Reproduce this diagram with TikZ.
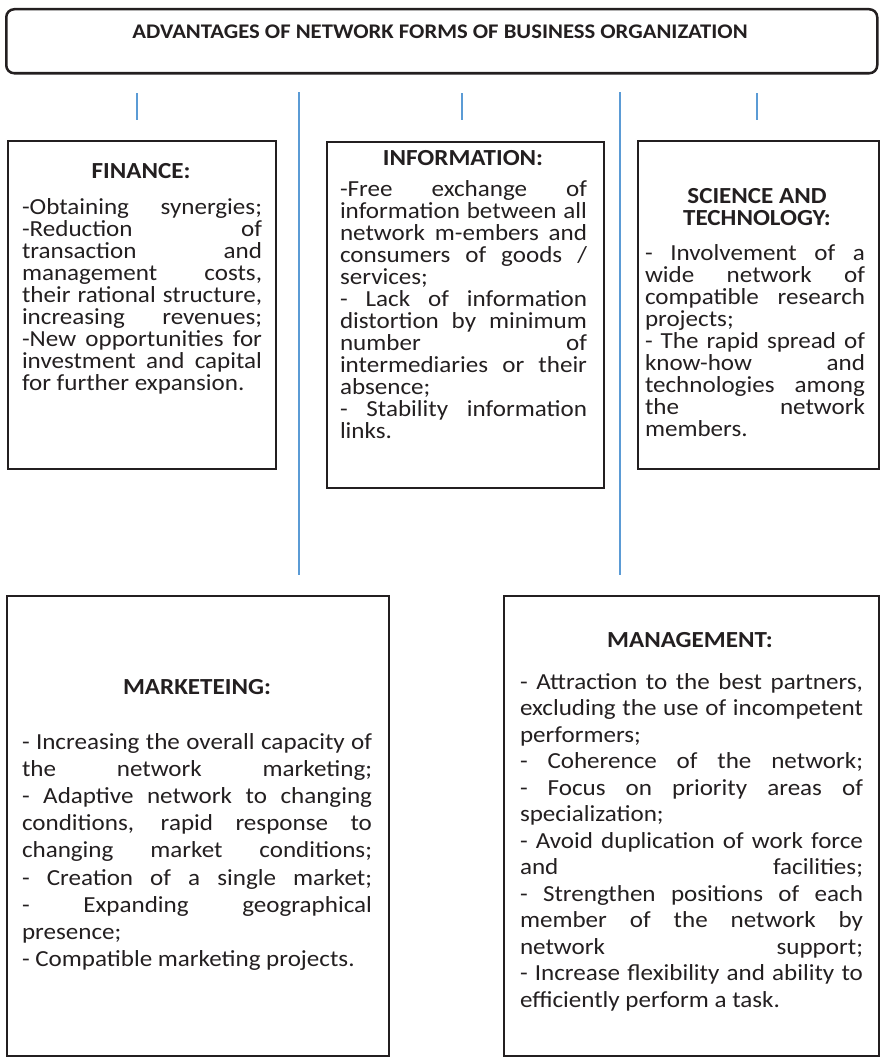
\documentclass[tikz,border=0pt]{standalone}
\usepackage{fontspec}
\setmainfont{Carlito}[FakeStretch=1.09]
\definecolor{boxgray}{RGB}{35,31,32}
\definecolor{linkblue}{RGB}{91,155,213}
\hyphenpenalty=10000
\exhyphenpenalty=10000
\tolerance=10000

\begin{document}
\begin{tikzpicture}[
        x=1pt, y=1pt,
        frame/.style={draw=boxgray, line width=2pt, inner sep=0pt, anchor=north west},
        titlebox/.style={frame, line width=2.5pt, rounded corners=8pt},
        heading/.style={font=\bfseries\fontsize{23}{22}\selectfont, align=center, inner sep=0pt, text=boxgray},
        upper/.style={font=\fontsize{23}{22}\selectfont, align=justify, inner sep=0pt, anchor=north, text=boxgray},
        lower/.style={font=\fontsize{23}{26.5}\selectfont, align=justify, inner sep=0pt, anchor=north, text=boxgray},
        link/.style={draw=linkblue, line width=1.2pt}
    ]
    \useasboundingbox (0,0) rectangle (879,-1057);

    % title
    \node[titlebox, minimum width=871, minimum height=64] (top) at (5,-8) {};
    \node[heading, font=\bfseries\fontsize{20.8}{22}\selectfont] (title) at (440,-32) {ADVANTAGES OF NETWORK FORMS OF BUSINESS ORGANIZATION};

    % blue strokes under the title
    \draw[link] (137,-93) -- (137,-120);
    \draw[link] (462,-93) -- (462,-120);
    \draw[link] (757,-93) -- (757,-120);
    \draw[link] (299,-92) -- (299,-575);
    \draw[link] (620,-92) -- (620,-575);

    % upper row
    \node[frame, minimum width=268, minimum height=328] (finbox) at (7,-140) {};
    \node[heading] (finhead) at (141,-171) {FINANCE:};
    \node[upper, text width=240] (finbody) at (142,-198) {%
        -Obtaining synergies;\linebreak
        -Reduction of\linebreak
        transaction and\linebreak
        management costs,\linebreak
        their rational structure,\linebreak
        increasing revenues;\linebreak
        -New opportunities for\linebreak
        investment and capital\linebreak
        for further expansion.};

    \node[frame, minimum width=277, minimum height=346] (infbox) at (326,-141) {};
    \node[heading] (infhead) at (463,-158) {INFORMATION:};
    \node[upper, text width=247] (infbody) at (463.5,-180) {%
        -Free exchange of\linebreak
        information between all\linebreak
        network m-embers and\linebreak
        consumers of goods /\linebreak
        services;\linebreak
        - Lack of information\linebreak
        distortion by minimum\linebreak
        number of\linebreak
        intermediaries or their\linebreak
        absence;\linebreak
        - Stability information\linebreak
        links.};

    \node[frame, minimum width=241, minimum height=328] (scibox) at (637,-140) {};
    \node[heading] (scihead) at (757,-207) {SCIENCE AND\\TECHNOLOGY:};
    \node[upper, text width=220] (scibody) at (755,-244) {%
        - Involvement of a\linebreak
        wide network of\linebreak
        compatible research\linebreak
        projects;\linebreak
        - The rapid spread of\linebreak
        know-how and\linebreak
        technologies among\linebreak
        the network\linebreak
        members.};

    % lower row
    \node[frame, minimum width=382, minimum height=460] (mktbox) at (6,-595) {};
    \node[heading] (mkthead) at (197,-687) {MARKETEING:};
    \node[lower, font=\fontsize{23}{27.2}\selectfont, text width=350] (mktbody) at (197,-733) {%
        - Increasing the overall capacity of\linebreak
        the network marketing;\linebreak
        - Adaptive network to changing\linebreak
        conditions, rapid response to\linebreak
        changing market conditions;\linebreak
        - Creation of a single market;\linebreak
        - Expanding geographical\linebreak
        presence;\linebreak
        - Compatible marketing projects.};

    \node[frame, minimum width=375, minimum height=460] (mgtbox) at (503,-595) {};
    \node[heading] (mgthead) at (690,-640) {MANAGEMENT:};
    \node[lower, text width=343] (mgtbody) at (691.5,-673) {%
        - Attraction to the best partners,\linebreak
        excluding the use of incompetent\linebreak
        performers;\linebreak
        - Coherence of the network;\linebreak
        - Focus on priority areas of\linebreak
        specialization;\linebreak
        - Avoid duplication of work force\linebreak
        and facilities;\linebreak
        - Strengthen positions of each\linebreak
        member of the network by\linebreak
        network support;\linebreak
        - Increase flexibility and ability to\linebreak
        efficiently perform a task.};
\end{tikzpicture}
\end{document}
